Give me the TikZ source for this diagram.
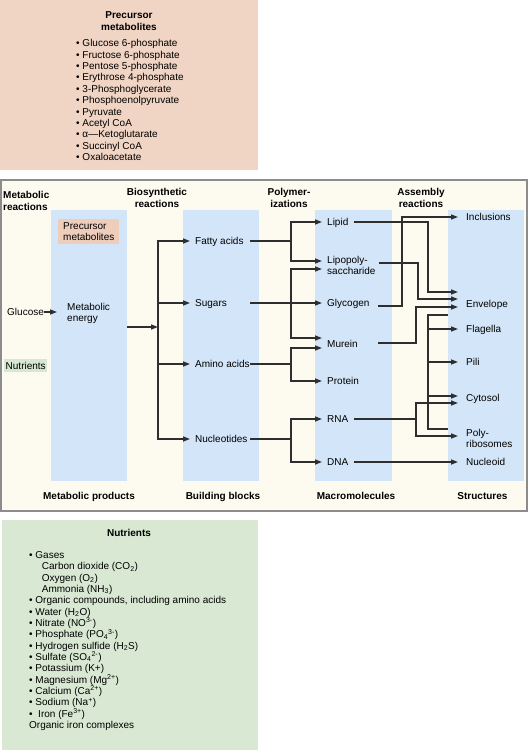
\documentclass[tikz,border=0pt]{standalone}
\usepackage{fontspec}
\setmainfont{Liberation Sans}
\usetikzlibrary{arrows.meta,calc}
\definecolor{pinkbg}{HTML}{F0D4C4}
\definecolor{pinkmini}{HTML}{EECDBB}
\definecolor{greenbg}{HTML}{D8E8D3}
\definecolor{greenmini}{HTML}{D6E8D1}
\definecolor{creambg}{HTML}{FDFAF0}
\definecolor{bluecol}{HTML}{D3E5F8}
\definecolor{framegray}{HTML}{8C8C8C}
\definecolor{linecol}{HTML}{2E2E2E}
\begin{document}
\begin{tikzpicture}[x=1pt,y=-1pt,
  lbl/.style={font=\fontsize{10}{11}\selectfont, inner ysep=0pt, inner xsep=0pt, text height=7pt, text depth=0pt, anchor=west},
  mlbl/.style={font=\fontsize{10}{11}\selectfont, inner ysep=0pt, inner xsep=0pt, align=left, anchor=north west},
  hdr/.style={font=\fontsize{10}{12}\selectfont\bfseries, inner sep=0pt, align=center, anchor=north},
  ftr/.style={font=\fontsize{10}{12}\selectfont\bfseries, inner sep=0pt, text height=7pt, text depth=0pt},
  listtxt/.style={font=\fontsize{10}{11.4}\selectfont, inner sep=0pt, align=left, anchor=north west},
  col/.style={fill=bluecol, draw=none, inner sep=0pt, minimum width=76pt, minimum height=271pt, anchor=north west},
  conn/.style={draw=linecol, line width=1.5pt},
  arr/.style={conn, -{Triangle[length=7pt,width=5pt]}},
  arrtwo/.style={conn, {Triangle[length=7pt,width=5pt]}-{Triangle[length=7pt,width=5pt]}},
]
\useasboundingbox (0,0) rectangle (528,750);
\fill[white] (0,0) rectangle (528,750);

% ---- top box
\fill[pinkbg] (0,0) rectangle (258,170);
\node[hdr] (pmtitle) at (129,11.3) {Precursor\\metabolites};
\node[listtxt] (pmlist) at (76,39.2) {• Glucose 6-phosphate\\• Fructose 6-phosphate\\• Pentose 5-phosphate\\• Erythrose 4-phosphate\\• 3-Phosphoglycerate\\• Phosphoenolpyruvate\\• Pyruvate\\• Acetyl CoA\\• α—Ketoglutarate\\• Succinyl CoA\\• Oxaloacetate};

% ---- main frame
\draw[draw=framegray, line width=1.5pt, fill=creambg] (1,180) rectangle (527,511);
\node[col] (col1) at (51,210) {};
\node[col] (col2) at (183,210) {};
\node[col, minimum width=77pt] (col3) at (315,210) {};
\node[col] (col4) at (448,210) {};

\node[hdr, align=left, anchor=north west] (hmr) at (3,191.3) {Metabolic\\reactions};
\node[hdr] (hbr) at (157,188.3) {Biosynthetic\\reactions};
\node[hdr] (hpz) at (289,188.3) {Polymer-\\izations};
\node[hdr] (har) at (421,188.3) {Assembly\\reactions};

\node[ftr] (fmp) at (89,496) {Metabolic products};
\node[ftr] (fbb) at (223,496) {Building blocks};
\node[ftr] (fmm) at (356,496) {Macromolecules};
\node[ftr] (fst) at (482.5,496) {Structures};

\node[fill=pinkmini, font=\fontsize{10}{10.5}\selectfont, align=left, inner xsep=5pt, inner ysep=4pt, anchor=north west] (pmmini) at (58,218.5) {Precursor\\metabolites};
\node[fill=greenmini, font=\fontsize{10}{11}\selectfont, inner xsep=1.5pt, inner ysep=3pt, text height=7pt, text depth=0pt, anchor=west] (nutmini) at (4,365.5) {Nutrients};

% ---- metabolic
\node[lbl] (glucose) at (7,312) {Glucose};
\node[mlbl] (metab) at (67,303.3) {Metabolic\\energy};
\draw[arr, shorten >=10pt] (glucose.east) -- (glucose.east -| metab.west);
\coordinate (trunk) at (158,327);
\draw[arr] (col1.east |- trunk) -- (trunk);

% ---- building blocks
\node[lbl, inner xsep=5pt] (fatty) at (190,241) {Fatty acids};
\node[lbl, inner xsep=5pt] (sugars) at (190,303) {Sugars};
\node[lbl, inner xsep=5pt] (amino) at (190,364) {Amino acids};
\node[lbl, inner xsep=5pt] (nucleo) at (190,439) {Nucleotides};
\draw[arrtwo] (fatty.west) -- (trunk |- fatty.west) -- (trunk |- nucleo.west) -- (nucleo.west);
\draw[arr] (trunk |- sugars.west) -- (sugars.west);
\draw[arr] (trunk |- amino.west) -- (amino.west);

% ---- macromolecules
\node[lbl, inner xsep=5pt] (lipid) at (322,222) {Lipid};
\node[mlbl, inner xsep=5pt] (lps) at (322,256.3) {Lipopoly-\\saccharide};
\node[lbl, inner xsep=5pt] (glyco) at (322,303) {Glycogen};
\node[lbl, inner xsep=5pt] (murein) at (322,344) {Murein};
\node[lbl, inner xsep=5pt] (protein) at (322,381) {Protein};
\node[lbl, inner xsep=5pt] (rna) at (322,419) {RNA};
\node[lbl, inner xsep=5pt] (dna) at (322,462) {DNA};

\coordinate (bbx) at (250,0);
\coordinate (br) at (291,0);
\coordinate (lpsA) at ($(lps.north west)+(0,4.7)$);
\coordinate (lpsB) at ($(lps.north west)+(0,12.7)$);
\coordinate (murA) at ($(murein.west)+(0,-6)$);
\coordinate (murB) at ($(murein.west)+(0,4)$);

\draw[conn] (fatty.west -| bbx) -- (fatty.west -| br);
\draw[arrtwo] (lipid.west) -- (br |- lipid.west) -- (br |- lpsA) -- (lpsA);
\draw[arr] (sugars.west -| bbx) -- (glyco.west);
\draw[arrtwo] (lpsB) -- (br |- lpsB) -- (br |- murA) -- (murA);
\draw[conn] (amino.west -| bbx) -- (amino.west -| br);
\draw[arrtwo] (murB) -- (br |- murB) -- (br |- protein.west) -- (protein.west);
\draw[conn] (nucleo.west -| bbx) -- (nucleo.west -| br);
\draw[arrtwo] (rna.west) -- (br |- rna.west) -- (br |- dna.west) -- (dna.west);

% ---- structures
\node[lbl, inner xsep=8pt] (incl) at (458,217) {Inclusions};
\node[lbl, inner xsep=8pt] (envelope) at (458,304) {Envelope};
\node[lbl, inner xsep=8pt] (flag) at (458,329) {Flagella};
\node[lbl, inner xsep=8pt] (pili) at (458,362) {Pili};
\node[lbl, inner xsep=8pt] (cytosol) at (458,398) {Cytosol};
\node[mlbl, inner xsep=8pt] (polyrib) at (458,429.3) {Poly-\\ribosomes};
\node[lbl, inner xsep=8pt] (nucleoid) at (458,462) {Nucleoid};

\coordinate (mmx) at (378,0);
\coordinate (xg) at (402,0);
\coordinate (xm) at (416,0);
\coordinate (xl) at (418,0);
\coordinate (xp) at (428,0);
\coordinate (envA) at ($(envelope.west)+(0,-12)$);
\coordinate (envB) at ($(envelope.west)+(0,-5)$);
\coordinate (envC) at ($(envelope.west)+(0,3)$);
\coordinate (lpsOut) at ($(lps.north east)+(-2,6.7)$);
\coordinate (glyOut) at ($(glyco.east -| mmx)+(0,3)$);
\coordinate (murOut) at ($(murein.east -| mmx)+(0,-1)$);
\coordinate (cytA) at ($(cytosol.west)+(0,-2)$);
\coordinate (cytB) at ($(cytosol.west)+(0,5)$);
\coordinate (polyA) at ($(polyrib.north west)+(0,6.7)$);
\coordinate (ptop) at ($(col4.north west)+(0,105)$);
\coordinate (pbot) at ($(col4.north west)+(0,219)$);

\draw[arr] (lipid.east) -- (lipid.east -| xp) -- (xp |- envA) -- (envA);
\draw[arr] (lpsOut) -- (lpsOut -| xl) -- (xl |- envB) -- (envB);
\draw[arr] (glyOut) -- (glyOut -| xg) -- (xg |- incl.west) -- (incl.west);
\draw[arr] (murOut) -- (murOut -| xm) -- (xm |- envC) -- (envC);

\draw[conn] (ptop) -- (ptop -| xp) -- (pbot -| xp) -- (pbot);
\draw[arr] (xp |- flag.west) -- (flag.west);
\draw[arr] (xp |- pili.west) -- (pili.west);
\draw[arr] (xp |- cytA) -- (cytA);

\draw[conn] (rna.east) -- (rna.east -| xm);
\draw[arrtwo] (cytB) -- (xm |- cytB) -- (xm |- polyA) -- (polyA);
\draw[arr] (dna.east) -- (nucleoid.west);

% ---- bottom box
\fill[greenbg] (2,520) rectangle (258,750);
\node[hdr] (nuttitle) at (129,529.3) {Nutrients};
\node[listtxt, font=\fontsize{10}{11.33}\selectfont] (nutlist) at (29,551.2) {• Gases\\
\hspace*{12.7pt}Carbon dioxide (CO\textsubscript{2})\\
\hspace*{12.7pt}Oxygen (O\textsubscript{2})\\
\hspace*{12.7pt}Ammonia (NH\textsubscript{3})\\
• Organic compounds, including amino acids\\
• Water (H\textsubscript{2}O)\\
• Nitrate (NO\textsuperscript{3-})\\
• Phosphate (PO\textsubscript{4}\textsuperscript{3-})\\
• Hydrogen sulfide (H\textsubscript{2}S)\\
• Sulfate (SO\textsubscript{4}\textsuperscript{2-})\\
• Potassium (K+)\\
• Magnesium (Mg\textsuperscript{2+})\\
• Calcium (Ca\textsuperscript{2+})\\
• Sodium (Na\textsuperscript{+})\\
•\ \ Iron (Fe\textsuperscript{3+})\\
Organic iron complexes};
\end{tikzpicture}
\end{document}
